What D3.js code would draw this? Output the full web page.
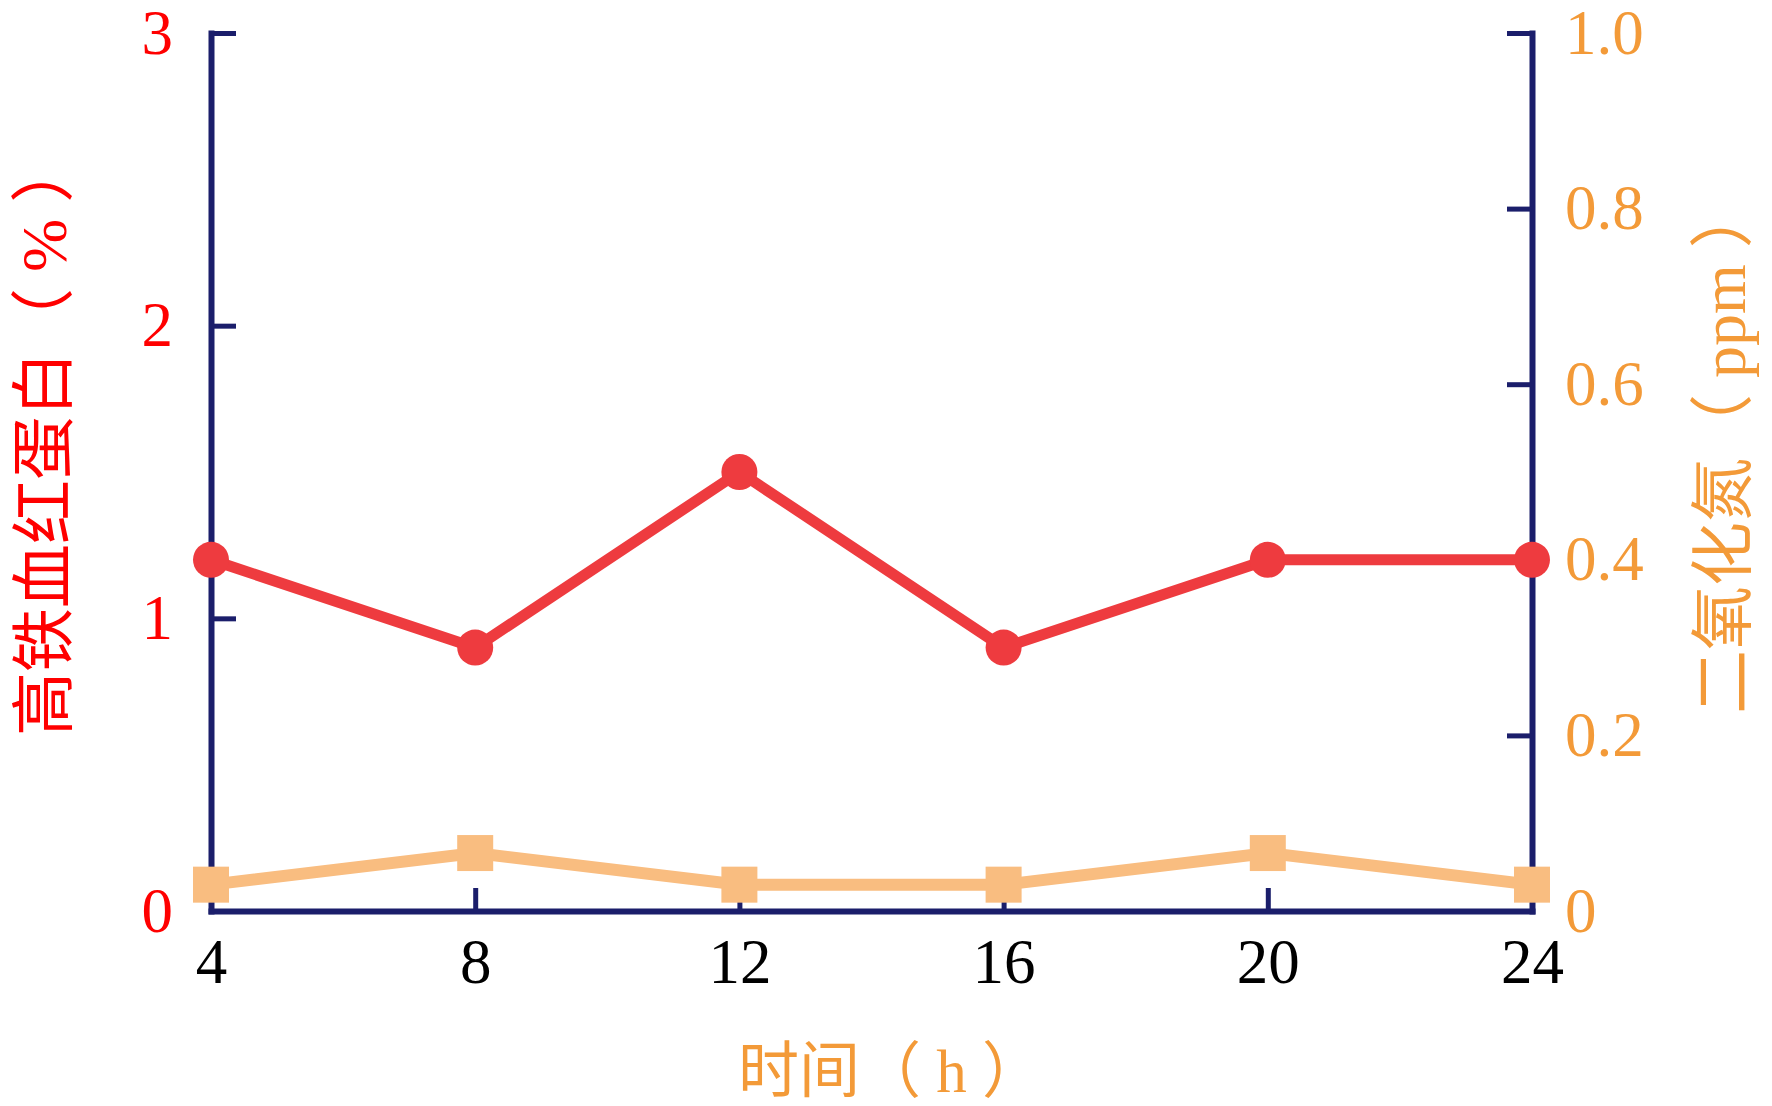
<!DOCTYPE html>
<html>
<head>
<meta charset="utf-8">
<script src="https://cdn.jsdelivr.net/npm/d3@7"></script>
<style>
  body { margin: 0; background: #fff; }
  svg { display: block; }
</style>
</head>
<body>
<svg id="chart"></svg>
<script>
const hours = [4, 8, 12, 16, 20, 24]
const hemoglobin = [1.2, 0.9, 1.5, 0.9, 1.2, 1.2]
const no2 = [0.03, 0.066, 0.03, 0.03, 0.066, 0.03]
const leftTicks = [0, 1, 2, 3]
const rightTicks = [0, 0.2, 0.4, 0.6, 0.8, 1.0]

const width = 1772, height = 1106
const plot = { left: 211, right: 1532, top: 33, bottom: 911 }
const axisColor = '#1b1e6b'
const serif = '"Liberation Serif", "Noto Sans CJK SC", serif'

const svg = d3.select('#chart')
  .attr('width', width)
  .attr('height', height)

const x = d3.scaleLinear().domain([4, 24]).range([plot.left, plot.right])
const yL = d3.scaleLinear().domain([0, 3]).range([plot.bottom, plot.top])
const yR = d3.scaleLinear().domain([0, 1]).range([plot.bottom, plot.top])

function styleAxis(g, color) {
  g.select('.domain').attr('stroke', axisColor).attr('stroke-width', 6).attr('stroke-linecap', 'square')
  g.selectAll('.tick line').attr('stroke', axisColor).attr('stroke-width', 5)
  g.selectAll('.tick text')
    .attr('fill', color)
    .style('font-family', serif)
    .style('font-size', '63px')
}

svg.append('g')
  .attr('transform', `translate(0,${plot.bottom})`)
  .call(d3.axisBottom(x).tickValues(hours).tickSizeInner(-23).tickSizeOuter(0).tickPadding(27))
  .call(g => styleAxis(g, '#000'))

svg.append('g')
  .attr('transform', `translate(${plot.left},0)`)
  .call(d3.axisLeft(yL).tickValues(leftTicks).tickSizeInner(-25).tickSizeOuter(0).tickPadding(38).tickFormat(d3.format('d')))
  .call(g => styleAxis(g, '#ff0000'))

svg.append('g')
  .attr('transform', `translate(${plot.right},0)`)
  .call(d3.axisRight(yR).tickValues(rightTicks).tickSizeInner(-25).tickSizeOuter(0).tickPadding(33)
    .tickFormat(d => d === 0 ? '0' : d3.format('.1f')(d)))
  .call(g => styleAxis(g, '#f39a38'))

// nitrogen dioxide series (right axis)
const no2Color = '#f9bd80'
const no2Pts = hours.map((h, i) => [h, no2[i]])
svg.append('path')
  .datum(no2Pts)
  .attr('fill', 'none')
  .attr('stroke', no2Color)
  .attr('stroke-width', 12)
  .attr('d', d3.line().x(d => x(d[0])).y(d => yR(d[1])))

svg.append('g').selectAll('rect')
  .data(no2Pts)
  .join('rect')
  .attr('x', d => x(d[0]) - 18)
  .attr('y', d => yR(d[1]) - 18)
  .attr('width', 36)
  .attr('height', 36)
  .attr('fill', no2Color)

// hemoglobin series (left axis)
const hbColor = '#ee3b3f'
const hbPts = hours.map((h, i) => [h, hemoglobin[i]])
svg.append('path')
  .datum(hbPts)
  .attr('fill', 'none')
  .attr('stroke', hbColor)
  .attr('stroke-width', 11)
  .attr('d', d3.line().x(d => x(d[0])).y(d => yL(d[1])))

svg.append('g').selectAll('circle')
  .data(hbPts)
  .join('circle')
  .attr('cx', d => x(d[0]))
  .attr('cy', d => yL(d[1]))
  .attr('r', 18)
  .attr('fill', hbColor)

// axis titles
svg.append('text')
  .attr('x', 738).attr('y', 1092)
  .attr('fill', '#f39a38')
  .style('font-family', serif).style('font-size', '61px')
  .text('时间（ h ）')

svg.append('text')
  .attr('transform', 'translate(66,736) rotate(-90)')
  .attr('fill', '#ff0000')
  .style('font-family', serif).style('font-size', '64px')
  .text('高铁血红蛋白（ % ）')

svg.append('text')
  .attr('transform', 'translate(1745,714) rotate(-90)')
  .attr('fill', '#f39a38')
  .style('font-family', serif).style('font-size', '64px')
  .text('二氧化氮（ ppm ）')
</script>
</body>
</html>
